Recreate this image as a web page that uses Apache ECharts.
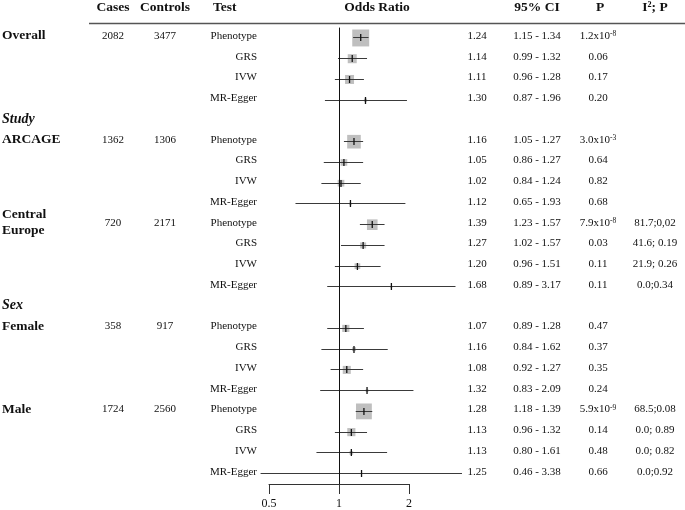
<!DOCTYPE html>
<html><head><meta charset="utf-8">
<script src="https://cdn.jsdelivr.net/npm/echarts@6/dist/echarts.min.js"></script>
<style>html,body{margin:0;padding:0;background:#fff}#c{width:685px;height:510px}</style>
</head><body><div id="c"></div>
<script>
// ---- data ----
const groupNames = ['Overall', 'ARCAGE', 'Central\nEurope', 'Female', 'Male'];
const sectionNames = ['', 'Study', '', 'Sex', ''];
const cases = [2082, 1362, 720, 358, 1724];
const controls = [3477, 1306, 2171, 917, 2560];
const testNames = ['Phenotype', 'GRS', 'IVW', 'MR-Egger'];
const orVals = [1.24, 1.14, 1.11, 1.30, 1.16, 1.05, 1.02, 1.12, 1.39, 1.27, 1.20, 1.68, 1.07, 1.16, 1.08, 1.32, 1.28, 1.13, 1.13, 1.25];
const ciLow  = [1.15, 0.99, 0.96, 0.87, 1.05, 0.86, 0.84, 0.65, 1.23, 1.02, 0.96, 0.89, 0.89, 0.84, 0.92, 0.83, 1.18, 0.96, 0.80, 0.46];
const ciHigh = [1.34, 1.32, 1.28, 1.96, 1.27, 1.27, 1.24, 1.93, 1.57, 1.57, 1.51, 3.17, 1.28, 1.62, 1.27, 2.09, 1.39, 1.32, 1.61, 3.38];
const pVals = ['1.2x10^-8', '0.06', '0.17', '0.20', '3.0x10^-3', '0.64', '0.82', '0.68', '7.9x10^-8', '0.03', '0.11', '0.11', '0.47', '0.37', '0.35', '0.24', '5.9x10^-9', '0.14', '0.48', '0.66'];
const hetero = ['', '', '', '', '', '', '', '', '81.7;0,02', '41.6; 0.19', '21.9; 0.26', '0.0;0.34', '', '', '', '', '68.5;0.08', '0.0; 0.89', '0.0; 0.82', '0.0;0.92'];
const xTicks = [0.5, 1, 2];
const headers = ['Cases', 'Controls', 'Test', 'Odds Ratio', '95% CI', 'P', 'I²; P'];

// ---- build rows ----
const rows = [];
let k = 0;
groupNames.forEach((g, gi) => {
  if (sectionNames[gi]) rows.push({ kind: 'section', label: sectionNames[gi] });
  testNames.forEach((t, ti) => { rows.push({ kind: 'data', g: gi, t: ti, k: k++ }); });
});
const forestData = [];
const textData = [];
rows.forEach((r, i) => {
  textData.push([1, i]);
  if (r.kind === 'data') forestData.push([orVals[r.k], ciLow[r.k], ciHigh[r.k], i]);
});

const FONT = '"Liberation Serif", "Times New Roman", serif';
const TXT = '#111';
const snap = v => Math.round(v - 0.5) + 0.5;

function pRich(s) {
  const m = s.match(/^(.*)\^(.*)$/);
  return m ? m[1] + '{sup|' + m[2] + '}' : s;
}

const chart = echarts.init(document.getElementById('c'), null, { renderer: 'canvas' });
chart.setOption({
  animation: false,
  backgroundColor: '#fff',
  grid: { left: 269, width: 140, top: 27.6, height: 456.5 },
  xAxis: {
    type: 'log', logBase: 2, min: 0.5, max: 2,
    splitLine: { show: false },
    axisLine: { show: true, onZero: false, lineStyle: { color: '#333', width: 1 } },
    axisTick: { show: true, length: 10, lineStyle: { color: '#333', width: 1 } },
    minorTick: { show: false },
    axisLabel: {
      margin: 14, color: TXT, fontFamily: FONT, fontSize: 12,
      formatter: v => { const t = xTicks.find(x => Math.abs(x - v) < 1e-6); return t === undefined ? '' : String(t); }
    }
  },
  yAxis: { type: 'value', min: -0.5, max: rows.length - 0.5, inverse: true, show: false, splitLine: { show: false } },
  series: [
    {
      type: 'custom', name: 'forest', clip: false,
      data: forestData,
      encode: { x: [0, 1, 2], y: 3 },
      renderItem: (params, api) => {
        const or = api.value(0), lo = api.value(1), hi = api.value(2), slot = api.value(3);
        const pO = api.coord([or, slot]), pL = api.coord([lo, slot]), pH = api.coord([hi, slot]);
        const y = snap(pO[1]);
        const size = 2.59 / Math.log(hi / lo);
        return {
          type: 'group', children: [
            { type: 'rect', shape: { x: pO[0] - size / 2, y: pO[1] - size / 2, width: size, height: size }, style: { fill: '#bfbfbf' } },
            { type: 'line', shape: { x1: pL[0], y1: y, x2: pH[0], y2: y }, style: { stroke: '#3a3a3a', lineWidth: 1 } },
            { type: 'line', shape: { x1: pO[0], y1: y - 3.5, x2: pO[0], y2: y + 3.5 }, style: { stroke: '#111', lineWidth: 1.3 } }
          ]
        };
      },
      markLine: {
        silent: true, symbol: 'none', label: { show: false },
        lineStyle: { color: '#111', width: 1, type: 'solid' },
        data: [{ xAxis: 1 }]
      },
      z: 3
    },
    {
      type: 'custom', name: 'table', clip: false,
      data: textData,
      encode: { x: 0, y: 1 },
      renderItem: (params, api) => {
        const slot = api.value(1);
        const y = api.coord([1, slot])[1] - 2;
        const r = rows[slot];
        const t = (x, text, align, font, extra) => ({
          type: 'text', x: x, y: y,
          style: Object.assign({ text: text, fill: TXT, font: font || ('11px ' + FONT), align: align || 'center', verticalAlign: 'middle' }, extra || {})
        });
        const ch = [];
        if (r.kind === 'section') {
          ch.push(t(2, r.label, 'left', 'italic bold 14px ' + FONT));
        } else {
          if (r.t === 0) {
            ch.push(t(2, groupNames[r.g], 'left', 'bold 13.5px ' + FONT, { lineHeight: 16 }));
            ch.push(t(113, String(cases[r.g])));
            ch.push(t(165, String(controls[r.g])));
          }
          ch.push(t(257, testNames[r.t], 'right'));
          ch.push(t(477, orVals[r.k].toFixed(2)));
          ch.push(t(537, ciLow[r.k].toFixed(2) + ' - ' + ciHigh[r.k].toFixed(2)));
          ch.push(t(598, pRich(pVals[r.k]), 'center', null, {
            rich: { sup: { fontSize: 7.5, fontFamily: FONT, fill: TXT, verticalAlign: 'top', lineHeight: 11 } }
          }));
          if (hetero[r.k]) ch.push(t(655, hetero[r.k]));
        }
        return { type: 'group', children: ch };
      },
      z: 4
    }
  ],
  graphic: [
    { type: 'line', shape: { x1: 89, y1: 23.5, x2: 685, y2: 23.5 }, style: { stroke: '#555', lineWidth: 1.5 } },
    { type: 'text', x: 113, y: 8, style: { text: headers[0], font: 'bold 13.5px ' + FONT, fill: TXT, align: 'center', verticalAlign: 'middle' } },
    { type: 'text', x: 165, y: 8, style: { text: headers[1], font: 'bold 13.5px ' + FONT, fill: TXT, align: 'center', verticalAlign: 'middle' } },
    { type: 'text', x: 213, y: 8, style: { text: headers[2], font: 'bold 13.5px ' + FONT, fill: TXT, align: 'left', verticalAlign: 'middle' } },
    { type: 'text', x: 377, y: 8, style: { text: headers[3], font: 'bold 13.5px ' + FONT, fill: TXT, align: 'center', verticalAlign: 'middle' } },
    { type: 'text', x: 537, y: 8, style: { text: headers[4], font: 'bold 13.5px ' + FONT, fill: TXT, align: 'center', verticalAlign: 'middle' } },
    { type: 'text', x: 600, y: 8, style: { text: headers[5], font: 'bold 13.5px ' + FONT, fill: TXT, align: 'center', verticalAlign: 'middle' } },
    { type: 'text', x: 655, y: 8, style: { text: headers[6], font: 'bold 13.5px ' + FONT, fill: TXT, align: 'center', verticalAlign: 'middle' } }
  ]
});
</script>
</body></html>
